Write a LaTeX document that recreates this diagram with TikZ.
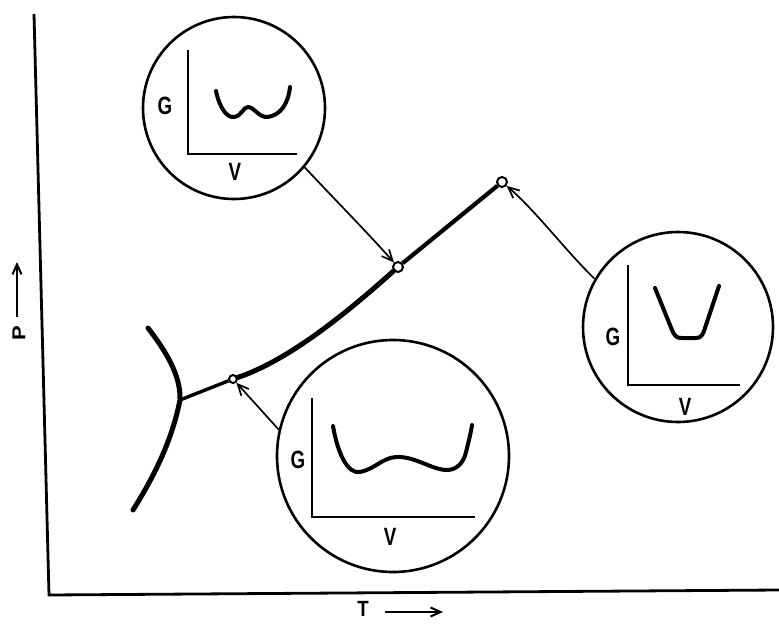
\documentclass[tikz,border=0pt]{standalone}
\usepackage{fontspec}
\setmainfont{Liberation Sans}
\usetikzlibrary{arrows.meta}
\begin{document}
\begin{tikzpicture}[x=1pt,y=-1pt,
  bubble/.style={draw,circle,line width=2.6pt,inner sep=0pt},
  phase/.style={line width=5pt,line cap=round},
  dotmark/.style={draw,circle,fill=white,line width=2pt,inner sep=0pt,minimum size=8pt},
  pointer/.style={line width=1.7pt,-{Straight Barb[length=11pt,width=10pt,line width=1.7pt]}},
  axisline/.style={line width=2.8pt},
  plotaxis/.style={line width=2.6pt},
  gcurve/.style={line width=4pt,line cap=round,line join=round},
  lbl/.style={font=\fontsize{25}{25}\selectfont\bfseries,inner sep=0pt,xscale=0.75},
  axlbl/.style={font=\fontsize{22}{22}\selectfont\bfseries,inner sep=0pt,xscale=0.85},
  axarrow/.style={line width=2pt,-{Straight Barb[length=10pt,width=9pt,line width=2pt]}}
]
\useasboundingbox (0,0) rectangle (779,624);
% main axes
\coordinate (otop) at (34,14);
\coordinate (orig) at (49,595);
\coordinate (xend) at (779,590);
\draw[axisline] (otop) -- (orig) -- (xend);
\node[axlbl] (tl) at (363,609) {T};
\coordinate (ta) at (385,612);
\coordinate (tb) at (443,612);
\draw[axarrow] (ta) -- (tb);
\node[axlbl,rotate=90] (pl) at (19,333) {P};
\coordinate (pa) at (17,317);
\coordinate (pb) at (17,262);
\draw[axarrow] (pa) -- (pb);

% phase lines
\coordinate (c1) at (148,328);
\coordinate (tp) at (180,400);
\coordinate (c2) at (133,510);
\draw[phase] (c1) .. controls (165,350) and (181,375) .. (tp) .. controls (172,440) and (155,475) .. (c2);
\node[dotmark,minimum size=8pt] (p1) at (233,379) {};
\node[dotmark,minimum size=10pt] (p2) at (398,267) {};
\node[dotmark,minimum size=10pt] (p3) at (502,182) {};
\draw[line width=3.4pt] (tp) -- (p1);
\draw[phase] (p1) .. controls (290,360) and (350,310) .. (p2);
\draw[line width=4.2pt] (p2) -- (p3);

% bubbles
\node[bubble,minimum size=182pt] (b1) at (234,108) {};
\node[bubble,minimum size=190pt] (b2) at (678,327) {};
\node[bubble,minimum size=232pt] (b3) at (393,456) {};

% bubble 1 plot
\coordinate (a1t) at (188,50);
\coordinate (a1o) at (188,154);
\coordinate (a1r) at (297,154);
\draw[plotaxis] (a1t) -- (a1o) -- (a1r);
\node[lbl] (g1) at (165,106) {G};
\node[lbl] (v1) at (235,172) {V};
\draw[gcurve] (216,91) .. controls (220,110) and (228,118) .. (234,117)
  .. controls (242,116) and (243,107) .. (248,107)
  .. controls (254,107) and (259,118) .. (268,117)
  .. controls (280,115) and (288,105) .. (290,87);

% bubble 2 plot
\coordinate (a2t) at (628,265);
\coordinate (a2o) at (628,385);
\coordinate (a2r) at (740,385);
\draw[plotaxis] (a2t) -- (a2o) -- (a2r);
\node[lbl] (g2) at (613,337) {G};
\node[lbl] (v2) at (685,407) {V};
\draw[gcurve] (655,288) -- (672,330) .. controls (675,337) and (677,338) .. (682,338)
  -- (696,338) .. controls (701,338) and (703,335) .. (705,328) -- (719,286);

% bubble 3 plot
\coordinate (a3t) at (312,398);
\coordinate (a3o) at (312,517);
\coordinate (a3r) at (475,517);
\draw[plotaxis] (a3t) -- (a3o) -- (a3r);
\node[lbl] (g3) at (298,460) {G};
\node[lbl] (v3) at (390,537) {V};
\draw[gcurve] (333,426) .. controls (338,455) and (348,474) .. (360,472)
  .. controls (375,469) and (382,458) .. (396,457)
  .. controls (415,456) and (432,470) .. (447,470)
  .. controls (457,470) and (464,462) .. (466,452)
  .. controls (469,440) and (471,432) .. (472,425);

% pointers
\draw[pointer] (b1.-40) .. controls (340,205) and (365,230) .. (p2);
\draw[pointer] (b2.150) .. controls (565,250) and (535,210) .. (p3);
\draw[pointer] (b3.167) -- (p1);
\end{tikzpicture}
\end{document}
